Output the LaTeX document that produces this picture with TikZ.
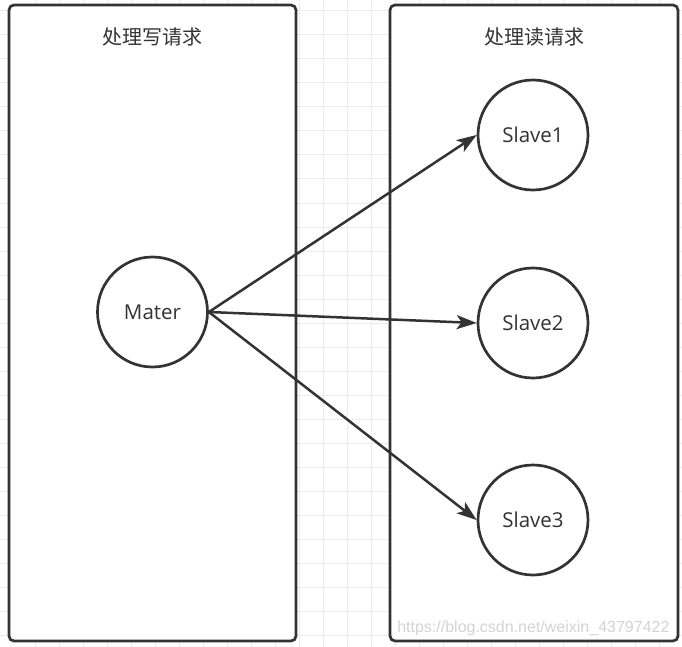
\documentclass[tikz,border=0pt]{standalone}
\usepackage{fontspec}
\setmainfont{Open Sans}
\newfontfamily\cjk{Noto Sans CJK SC}
\newfontfamily\wmfont{Liberation Sans}
\usetikzlibrary{arrows.meta}
\definecolor{ink}{HTML}{333333}
\definecolor{gridc}{HTML}{ECECEC}
\definecolor{wm}{HTML}{D4D4D4}
\tikzset{
  panel/.style={draw=ink, line width=2.7pt, fill=white, rounded corners=5pt},
  title/.style={font=\cjk\fontsize{20}{24}\selectfont, text=ink},
  server/.style={circle, draw=ink, line width=2.7pt, fill=white, minimum size=110pt, inner sep=0pt, font=\fontsize{20.5}{24}\selectfont, text=ink},
  link/.style={draw=ink, line width=2.5pt, -{Stealth[length=20pt, width=14pt, inset=5pt]}},
  watermark/.style={font=\wmfont\fontsize{16}{19}\selectfont, text=wm, anchor=east}
}
\begin{document}
\begin{tikzpicture}[x=1pt, y=-1pt]
\useasboundingbox (0,0) rectangle (682,647);
\fill[white] (0,0) rectangle (682,647);
\foreach \k in {0,...,28} {
  \draw[gridc, line width=1pt] (11+24*\k,0) -- (11+24*\k,647);
  \draw[gridc, line width=1pt] (0,11+24*\k) -- (682,11+24*\k);
}
\draw[panel] (9,5) rectangle (296,641);
\draw[panel] (390,5) rectangle (678,641);
\node[title] (t1) at (152.5,37) {处理写请求};
\node[title] (t2) at (534,37) {处理读请求};
\node[server] (m) at (152.5,312) {Mater};
\node[server] (s1) at (533,135) {Slave1};
\node[server] (s2) at (533,323) {Slave2};
\node[server] (s3) at (533,520) {Slave3};
\draw[link] (m.east) -- (s1.west);
\draw[link] (m.east) -- (s2.west);
\draw[link] (m.east) -- (s3.west);
\node[watermark] (wm) at (673,628) {https://blog.csdn.net/weixin\_43797422};
\end{tikzpicture}
\end{document}
